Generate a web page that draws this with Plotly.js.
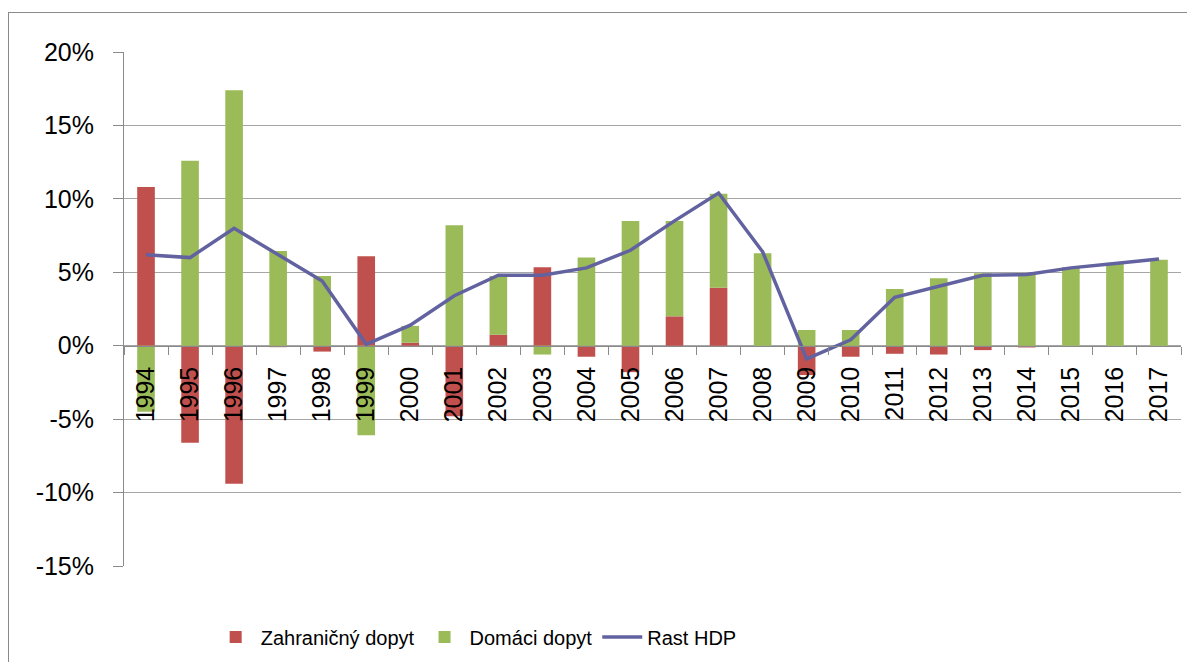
<!DOCTYPE html>
<html>
<head>
<meta charset="utf-8">
<script src="https://cdn.plot.ly/plotly-3.0.1.min.js"></script>
<style>
  html, body { margin: 0; padding: 0; background: #fff; }
  #wrap { position: relative; width: 1187px; height: 662px; }
  #chart { width: 1187px; height: 662px; }
  #frame { position: absolute; left: 8px; top: 12px; right: -2px; bottom: -2px;
           border-left: 1px solid #8a8a8a; border-top: 1px solid #8a8a8a; pointer-events: none; }
</style>
</head>
<body>
<div id="wrap">
  <div id="chart"></div>
  <div id="frame"></div>
</div>
<script>
const years = ['1994','1995','1996','1997','1998','1999','2000','2001','2002','2003','2004','2005',
               '2006','2007','2008','2009','2010','2011','2012','2013','2014','2015','2016','2017'];
const zahranicnyDopyt = [10.8, -6.6, -9.4, -0.1, -0.4, 6.1, 0.2, -4.8, 0.75, 5.35, -0.75, -1.8,
                         2.0, 3.95, 0.0, -2.0, -0.75, -0.55, -0.6, -0.3, -0.12, 0.0, 0.0, 0.0];
const domaciDopyt = [-4.5, 12.6, 17.4, 6.45, 4.75, -6.1, 1.15, 8.2, 4.0, -0.6, 6.0, 8.5,
                     6.5, 6.4, 6.3, 1.07, 1.07, 3.87, 4.6, 4.93, 4.93, 5.35, 5.65, 5.85];
const rastHDP = [6.2, 6.0, 8.0, 6.2, 4.4, 0.1, 1.4, 3.4, 4.8, 4.8, 5.3, 6.5,
                 8.5, 10.4, 6.4, -0.9, 0.4, 3.3, 4.05, 4.8, 4.85, 5.3, 5.6, 5.9];
const yTickVals = [-15, -10, -5, 0, 5, 10, 15, 20];
const yTickText = ['-15%', '-10%', '-5%', '0%', '5%', '10%', '15%', '20%'];
const seriesNames = ['Zahraničný dopyt', 'Domáci dopyt', 'Rast HDP'];

const FONT = '"Liberation Sans", Arial, sans-serif';

const traces = [
  { type: 'bar', name: seriesNames[0], x: years, y: zahranicnyDopyt,
    marker: { color: '#C0504D' }, hoverinfo: 'x+y' },
  { type: 'bar', name: seriesNames[1], x: years, y: domaciDopyt,
    marker: { color: '#9BBB59' }, hoverinfo: 'x+y' },
  { type: 'scatter', mode: 'lines', name: seriesNames[2], x: years, y: rastHDP,
    line: { color: '#6262A0', width: 3.5 } }
];

const yMin = -15, yMax = 20;
const layout = {
  width: 1187, height: 662,
  margin: { l: 124, r: 6, t: 52, b: 96 },
  paper_bgcolor: '#ffffff', plot_bgcolor: '#ffffff',
  font: { family: FONT, size: 24, color: '#000' },
  barmode: 'relative',
  bargap: 0.6,
  showlegend: true,
  legend: { orientation: 'h', x: 0.082, xanchor: 'left', y: -0.138, yanchor: 'middle',
            font: { family: FONT, size: 20, color: '#000' }, itemwidth: 40, traceorder: 'normal' },
  xaxis: {
    type: 'category', anchor: 'free', position: (0 - yMin) / (yMax - yMin),
    tickangle: -90, ticks: 'outside', tickson: 'boundaries', ticklen: 8, tickcolor: '#8a8a8a',
    ticklabelstandoff: 10,
    showline: true, linecolor: '#8a8a8a', linewidth: 1, showgrid: false,
    tickfont: { family: FONT, size: 25, color: '#000' }, automargin: false
  },
  yaxis: {
    range: [yMin, yMax], tickvals: yTickVals, ticktext: yTickText,
    showgrid: true, gridcolor: '#a6a6a6', gridwidth: 1,
    zeroline: true, zerolinecolor: '#a6a6a6', zerolinewidth: 1,
    showline: true, linecolor: '#8a8a8a', linewidth: 1,
    ticks: 'outside', ticklen: 10, tickcolor: '#8a8a8a',
    ticklabelstandoff: 14,
    tickfont: { family: FONT, size: 25, color: '#000' }, automargin: false
  }
};

Plotly.newPlot('chart', traces, layout, { displayModeBar: false, staticPlot: true });
</script>
</body>
</html>
